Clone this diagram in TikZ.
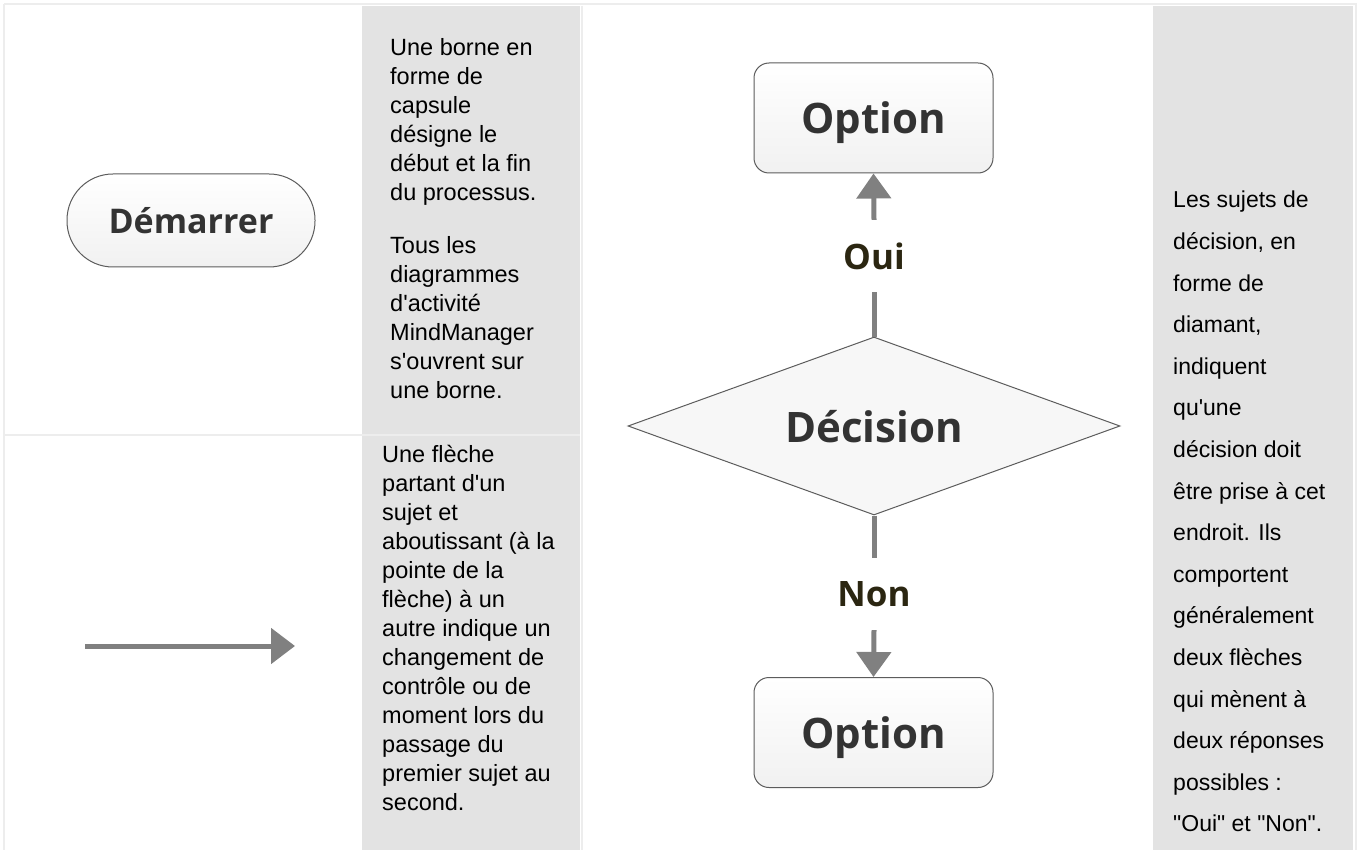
\documentclass[tikz,border=0pt]{standalone}
\usepackage{fontspec}
\setmainfont{Liberation Sans}
\newfontfamily\notefont{Liberation Sans}
\newfontfamily\topicfont{Open Sans}
\usetikzlibrary{positioning, arrows.meta, shapes.geometric}
\definecolor{panelGray}{HTML}{E3E3E3}
\definecolor{gridLine}{HTML}{EDEDED}
\definecolor{edgeGray}{HTML}{808080}
\definecolor{topicText}{HTML}{333333}
\definecolor{labelText}{HTML}{2B2611}
\definecolor{shapeLine}{HTML}{5C5C5C}
\definecolor{shapeFill}{HTML}{F7F7F7}
\definecolor{boxBottom}{HTML}{F1F1F1}

\begin{document}
\begin{tikzpicture}[x=1pt, y=-1pt,
    topicbase/.style={draw=shapeLine, line width=1pt, text=topicText, inner sep=0pt, text depth=0pt,
        font=\topicfont\bfseries\fontsize{42}{46}\selectfont},
    capsule/.style={topicbase, top color=white, bottom color=boxBottom, rounded corners=46pt,
        minimum width=248pt, minimum height=93pt, font=\topicfont\bfseries\fontsize{34}{38}\selectfont},
    optionbox/.style={topicbase, top color=white, bottom color=boxBottom, rounded corners=15pt,
        minimum width=239pt, minimum height=110pt},
    decision/.style={topicbase, diamond, aspect=2.76, fill=shapeFill, minimum width=492pt, minimum height=178pt},
    branch/.style={text=labelText, inner sep=0pt, minimum height=72pt,
        font=\topicfont\bfseries\fontsize{35}{38}\selectfont},
    flow/.style={draw=edgeGray, line width=5pt},
    note/.style={anchor=north west, align=left, inner sep=0pt,
        font=\notefont\fontsize{23.5}{29}\selectfont}]

    \useasboundingbox[fill=white] (0,0) rectangle (1362,850);

    % table background
    \fill[panelGray] (362,6) rectangle (580,850);
    \fill[panelGray] (1153,6) rectangle (1353,850);
    \draw[gridLine, line width=1.5pt] (4,4) -- (1357,4);
    \draw[gridLine, line width=1.5pt] (4,4) -- (4,850);
    \draw[gridLine, line width=1.5pt] (4,435) -- (580,435);
    \draw[gridLine, line width=1.5pt] (582,6) -- (582,850);
    \draw[gridLine, line width=1.5pt] (1356,4) -- (1356,850);

    % left column
    \node[capsule] (start) at (191,220.5) {Démarrer};
    \coordinate (arrowTail) at (85,646);
    \coordinate (arrowTip) at (295,646);
    \draw[flow, -{Triangle[width=35pt, length=24pt]}] (arrowTail) -- (arrowTip);

    \node[note] (borneText) at (390,38) {Une borne en\\forme de\\capsule\\désigne le\\début et la fin\\du processus.\\[24pt]Tous les\\diagrammes\\d'activité\\MindManager\\s'ouvrent sur\\une borne.};
    \node[note] (flecheText) at (382,445) {Une flèche\\partant d'un\\sujet et\\aboutissant (à la\\pointe de la\\flèche) à un\\autre indique un\\changement de\\contrôle ou de\\moment lors du\\passage du\\premier sujet au\\second.};

    % decision
    \node[optionbox] (optTop) at (873.5,118) {Option};
    \node[decision] (dec) at (874,426) {Décision};
    \node[optionbox] (optBot) at (873.5,732.5) {Option};
    \node[branch] (oui) at (874,256) {Oui};
    \node[branch] (non) at (874,594) {Non};

    \draw[flow] (dec.north) -- (oui.south);
    \draw[flow, -{Triangle[width=34pt, length=25pt]}] (oui.north) -- (optTop.south);
    \draw[flow] (dec.south) -- (non.north);
    \draw[flow, -{Triangle[width=34pt, length=25pt]}] (non.south) -- (optBot.north);

    \node[note, font=\notefont\fontsize{23}{41.6}\selectfont] (decisionText) at (1173,191) {Les sujets de\\décision, en\\forme de\\diamant,\\indiquent\\qu'une\\décision doit\\être prise à cet\\endroit. Ils\\comportent\\généralement\\deux flèches\\qui mènent à\\deux réponses\\possibles :\\"Oui" et "Non".};
\end{tikzpicture}
\end{document}
